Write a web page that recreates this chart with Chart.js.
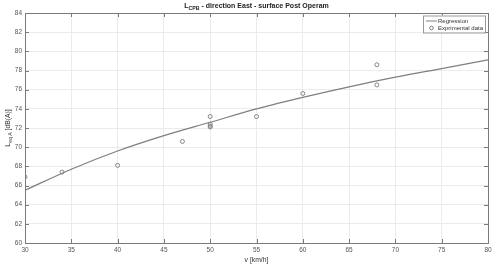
<!DOCTYPE html>
<html>
<head>
<meta charset="utf-8">
<script src="https://cdn.jsdelivr.net/npm/chart.js@4.4.1/dist/chart.umd.min.js"></script>
<style>
  html, body { margin: 0; padding: 0; background: #fff; }
  #contenitore { width: 495px; height: 266px; }
</style>
</head>
<body>
<div id="contenitore"><canvas id="grafico_1"></canvas></div>
<script>
// dati
var velocita_regressione = [30, 35, 40, 45, 50, 55, 60, 65, 70, 75, 80];
var livelli_regressione = [65.5, 67.7, 69.6, 71.2, 72.6, 74.0, 75.2, 76.3, 77.3, 78.2, 79.1];

var velocita_misure = [30, 34, 40, 47, 50, 50, 50, 50, 55, 60, 68, 68];
var livelli_misure = [66.9, 67.4, 68.1, 70.6, 73.2, 72.4, 72.2, 72.1, 73.2, 75.6, 78.6, 76.5];

var tick_x = [30, 35, 40, 45, 50, 55, 60, 65, 70, 75, 80];
var tick_y = [60, 62, 64, 66, 68, 70, 72, 74, 76, 78, 80, 82, 84];

var font_base = 'Arial, "Liberation Sans", sans-serif';
var grigio = '#7a7a7a';

// costruisco i punti {x,y} per lo scatter
function punti(xs, ys) {
  var out = [];
  for (var i = 0; i < xs.length; i++) {
    out.push({ x: xs[i], y: ys[i] });
  }
  return out;
}

// scrive testo con un pezzo a pedice (L con pedice)
function testo_pedice(ctx, base, pedice, resto, x, y, size, bold, centrato) {
  var peso = bold ? 'bold ' : '';
  var f1 = peso + size + 'px ' + font_base;
  var f2 = peso + (size * 0.75) + 'px ' + font_base;
  ctx.font = f1;
  var w1 = ctx.measureText(base).width;
  var w3 = ctx.measureText(resto).width;
  ctx.font = f2;
  var w2 = ctx.measureText(pedice).width;
  var tot = w1 + w2 + w3;
  var x0 = centrato ? x - tot / 2 : x;
  ctx.textAlign = 'left';
  ctx.textBaseline = 'alphabetic';
  ctx.font = f1;
  ctx.fillText(base, x0, y);
  ctx.font = f2;
  ctx.fillText(pedice, x0 + w1, y + size * 0.35);
  ctx.font = f1;
  ctx.fillText(resto, x0 + w1 + w2, y);
}

var plugin_extra = {
  id: 'extra',
  afterDraw: function (chart) {
    var ctx = chart.ctx;
    var area = chart.chartArea;
    var sx = chart.scales.x;
    var sy = chart.scales.y;
    ctx.save();

    // cornice del grafico
    ctx.strokeStyle = grigio;
    ctx.lineWidth = 1;
    ctx.strokeRect(Math.round(area.left) + 0.5, Math.round(area.top) + 0.5,
      Math.round(area.right - area.left), Math.round(area.bottom - area.top));

    // tacche interne stile matlab
    ctx.beginPath();
    for (var i = 0; i < tick_x.length; i++) {
      var px = Math.round(sx.getPixelForValue(tick_x[i])) + 0.5;
      ctx.moveTo(px, area.bottom); ctx.lineTo(px, area.bottom - 4);
      ctx.moveTo(px, area.top); ctx.lineTo(px, area.top + 4);
    }
    for (var j = 0; j < tick_y.length; j++) {
      var py = Math.round(sy.getPixelForValue(tick_y[j])) + 0.5;
      ctx.moveTo(area.left, py); ctx.lineTo(area.left + 4, py);
      ctx.moveTo(area.right, py); ctx.lineTo(area.right - 4, py);
    }
    ctx.stroke();

    // titolo
    ctx.fillStyle = '#222';
    testo_pedice(ctx, 'L', 'CPB', ' - direction East - surface Post Operam',
      (area.left + area.right) / 2, 8, 7, true, true);

    // titolo asse y ruotato
    ctx.save();
    ctx.translate(10, (area.top + area.bottom) / 2);
    ctx.rotate(-Math.PI / 2);
    ctx.fillStyle = '#333';
    testo_pedice(ctx, 'L', 'eq A', ' [dB(A)]', 0, 0, 6.8, false, true);
    ctx.restore();

    // legenda in alto a destra
    var lx = 423, ly = 15.5, lw = 62, lh = 17;
    ctx.fillStyle = '#fff';
    ctx.fillRect(lx, ly, lw, lh);
    ctx.strokeStyle = '#999';
    ctx.strokeRect(lx + 0.5, ly + 0.5, lw, lh);
    ctx.strokeStyle = '#808080';
    ctx.beginPath();
    ctx.moveTo(lx + 3, ly + 5.5); ctx.lineTo(lx + 14, ly + 5.5);
    ctx.stroke();
    ctx.beginPath();
    ctx.arc(lx + 8.5, ly + 12.5, 1.8, 0, Math.PI * 2);
    ctx.stroke();
    ctx.fillStyle = '#333';
    ctx.font = '6px ' + font_base;
    ctx.textBaseline = 'middle';
    ctx.textAlign = 'left';
    ctx.fillText('Regression', lx + 15, ly + 5.5);
    ctx.fillText('Exprimental data', lx + 15, ly + 12.5);

    ctx.restore();
  }
};

var chart = new Chart(document.getElementById('grafico_1'), {
  type: 'scatter',
  data: {
    datasets: [{
      label: 'Regression',
      data: punti(velocita_regressione, livelli_regressione),
      showLine: true,
      borderColor: '#7f7f7f',
      borderWidth: 1.2,
      pointRadius: 0,
      cubicInterpolationMode: 'monotone'
    }, {
      label: 'Exprimental data',
      data: punti(velocita_misure, livelli_misure),
      showLine: false,
      borderColor: '#858585',
      backgroundColor: 'rgba(0,0,0,0)',
      borderWidth: 1,
      pointRadius: 2
    }]
  },
  options: {
    responsive: true,
    maintainAspectRatio: false,
    animation: false,
    layout: { padding: { top: 13, right: 7, left: 0, bottom: 0 } },
    plugins: {
      legend: { display: false },
      tooltip: { enabled: false }
    },
    scales: {
      x: {
        type: 'linear',
        min: 30,
        max: 80,
        afterBuildTicks: function (scale) {
          scale.ticks = tick_x.map(function (v) { return { value: v }; });
        },
        afterFit: function (scale) { scale.height = 23; },
        grid: { color: '#ebebeb', drawTicks: false },
        border: { display: false },
        ticks: {
          color: '#555',
          font: { size: 6.5, family: font_base },
          padding: 3,
          maxRotation: 0
        },
        title: {
          display: true,
          text: 'v [km/h]',
          color: '#333',
          font: { size: 6.8, family: font_base },
          padding: { top: 1, bottom: 2 }
        }
      },
      y: {
        type: 'linear',
        min: 60,
        max: 84,
        afterBuildTicks: function (scale) {
          scale.ticks = tick_y.map(function (v) { return { value: v }; });
        },
        afterFit: function (scale) { scale.width = 25; },
        grid: { color: '#ebebeb', drawTicks: false },
        border: { display: false },
        ticks: {
          color: '#555',
          font: { size: 6.5, family: font_base },
          padding: 3
        }
      }
    }
  },
  plugins: [plugin_extra]
});
</script>
</body>
</html>
